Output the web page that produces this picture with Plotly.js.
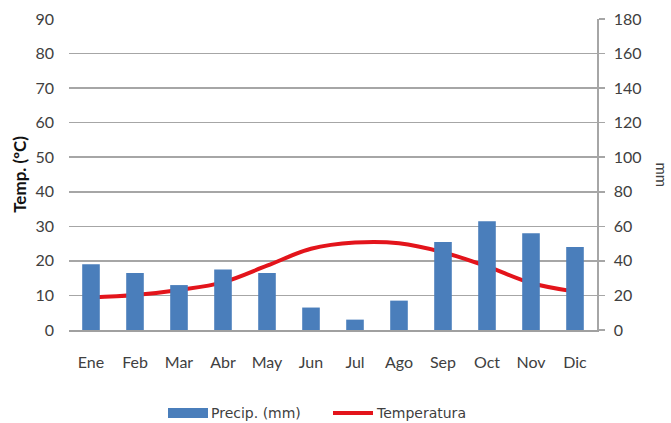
<!DOCTYPE html>
<html>
<head>
<meta charset="utf-8">
<script src="https://cdn.plot.ly/plotly-3.0.1.min.js"></script>
<style>html,body{margin:0;padding:0;background:#fff;}#chart{width:671px;height:423px;}</style>
</head>
<body>
<div id="chart"></div>
<script>
const months = ["Ene","Feb","Mar","Abr","May","Jun","Jul","Ago","Sep","Oct","Nov","Dic"];
const precipMm = [38, 33, 26, 35, 33, 13, 6, 17, 51, 63, 56, 48];
const tempC = [9.4, 10.1, 11.6, 13.8, 18.6, 23.5, 25.3, 25.1, 22.5, 18.4, 13.6, 11.1];
const leftTicks = [0,10,20,30,40,50,60,70,80,90];
const rightTicks = [0,20,40,60,80,100,120,140,160,180];
const seriesNames = ["Precip. (mm)", "Temperatura"];
const barColor = "#4a7ebb";
const lineColor = "#e3141b";

const fontFam = "Lato, 'Open Sans', sans-serif";
const legFam = "'DejaVu Sans', Verdana, sans-serif";
const data = [
  {type:"bar", x:months, y:precipMm, name:seriesNames[0], yaxis:"y2",
   marker:{color:barColor}, width:0.4, showlegend:false},
  {type:"scatter", mode:"lines", x:months, y:tempC, name:seriesNames[1], yaxis:"y",
   line:{color:lineColor, width:4, shape:"spline", smoothing:1}, showlegend:false}
];

// legend row drawn below the plot (paper coords)
const H = 311; // plot height in px
const W = 528; // plot width in px
function px(x){ return (x-69)/W; }
function py(y){ return (330-y)/H; }
const legY = py(413);

const layout = {
  width:671, height:423,
  margin:{l:69, r:74, t:19, b:93, autoexpand:false},
  paper_bgcolor:"#fff", plot_bgcolor:"#fff",
  font:{family:fontFam, size:15, color:"#404040"},
  showlegend:false,
  xaxis:{type:"category", showgrid:false, showline:true, linecolor:"#a0a0a0", linewidth:1.5,
         ticks:"", ticklabelstandoff:17, tickfont:{size:16, color:"#404040"}, automargin:false},
  yaxis:{range:[0,90], tickvals:leftTicks, showgrid:true, gridcolor:"#a6a6a6", gridwidth:1.5,
         zeroline:false, showline:false, ticks:"", ticklabelstandoff:14, automargin:false,
         tickfont:{size:16, color:"#404040"},
         title:{text:"Temp. (ºC)", font:{size:17, color:"#111", weight:"bold"}, standoff:4}},
  yaxis2:{range:[0,180], tickvals:rightTicks, overlaying:"y", side:"right", showgrid:false,
          zeroline:false, showline:true, linecolor:"#a6a6a6", linewidth:1.5, automargin:false,
          ticks:"outside", ticklen:6, tickcolor:"#a6a6a6", tickwidth:1.5, ticklabelstandoff:6,
          tickfont:{size:16, color:"#404040"}},
  shapes:[
    {type:"rect", xref:"paper", yref:"paper", x0:px(168), x1:px(208), y0:py(418), y1:py(408),
     fillcolor:barColor, line:{width:0}},
    {type:"line", xref:"paper", yref:"paper", x0:px(333), x1:px(373), y0:legY, y1:legY,
     line:{color:lineColor, width:4}}
  ],
  annotations:[
    {text:"mm", xref:"paper", yref:"paper", x:1, xshift:65, y:0.5, textangle:90,
     showarrow:false, font:{size:15, color:"#404040"}, xanchor:"center", yanchor:"middle"},
    {text:seriesNames[0], xref:"paper", yref:"paper", x:px(209), y:legY, xanchor:"left", yanchor:"middle",
     showarrow:false, font:{family:legFam, size:14, color:"#404040"}},
    {text:seriesNames[1], xref:"paper", yref:"paper", x:px(374), y:legY, xanchor:"left", yanchor:"middle",
     showarrow:false, font:{family:legFam, size:14, color:"#404040"}}
  ]
};
Plotly.newPlot("chart", data, layout, {staticPlot:true, displayModeBar:false});
</script>
</body>
</html>
